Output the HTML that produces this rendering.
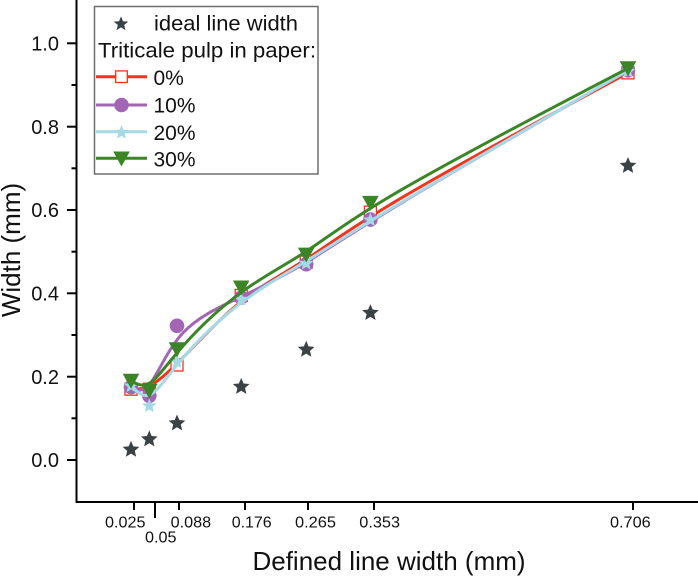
<!DOCTYPE html>
<html>
<head>
<meta charset="utf-8">
<style>
  html,body{margin:0;padding:0;background:#fff;}
  svg{display:block;}
  text{font-family:"Liberation Sans",Arial,sans-serif;fill:#111;}
</style>
</head>
<body>
<svg width="698" height="576" viewBox="0 0 698 576" xmlns="http://www.w3.org/2000/svg">
  <defs>
    <path id="st" d="M0,-7.6 L1.95,-2.69 L7.23,-2.35 L3.17,1.03 L4.47,6.15 L0,3.42 L-4.47,6.15 L-3.17,1.03 L-7.23,-2.35 L-1.95,-2.69 Z"/>
    <path id="st2" d="M0,-8.8 L2.35,-3.24 L8.37,-2.72 L3.8,1.24 L5.17,7.12 L0,4 L-5.17,7.12 L-3.8,1.24 L-8.37,-2.72 L-2.35,-3.24 Z"/>
  </defs>
  <rect width="698" height="576" fill="#fff"/>

  <!-- Axes -->
  <g stroke="#000" stroke-width="2" fill="none">
    <line x1="76.5" y1="0" x2="76.5" y2="502"/>
    <line x1="75.5" y1="502" x2="698" y2="502"/>
    <line x1="67" y1="43.3" x2="76" y2="43.3"/>
    <line x1="67" y1="126.7" x2="76" y2="126.7"/>
    <line x1="67" y1="210" x2="76" y2="210"/>
    <line x1="67" y1="293.3" x2="76" y2="293.3"/>
    <line x1="67" y1="376.7" x2="76" y2="376.7"/>
    <line x1="67" y1="460" x2="76" y2="460"/>
    <line x1="71.5" y1="85" x2="76" y2="85"/>
    <line x1="71.5" y1="168.3" x2="76" y2="168.3"/>
    <line x1="71.5" y1="251.7" x2="76" y2="251.7"/>
    <line x1="71.5" y1="335" x2="76" y2="335"/>
    <line x1="71.5" y1="418.3" x2="76" y2="418.3"/>
    <line x1="134" y1="502" x2="134" y2="510"/>
    <line x1="155" y1="502" x2="155" y2="518"/>
    <line x1="179" y1="502" x2="179" y2="510"/>
    <line x1="245" y1="502" x2="245" y2="510"/>
    <line x1="308" y1="502" x2="308" y2="510"/>
    <line x1="374" y1="502" x2="374" y2="510"/>
    <line x1="633" y1="502" x2="633" y2="510"/>
  </g>

  <!-- y tick labels -->
  <g font-size="20" text-anchor="end">
    <text x="59" y="50.5">1.0</text>
    <text x="59" y="133.9">0.8</text>
    <text x="59" y="217.2">0.6</text>
    <text x="59" y="300.5">0.4</text>
    <text x="59" y="383.9">0.2</text>
    <text x="59" y="467.2">0.0</text>
  </g>

  <!-- x tick labels -->
  <g font-size="16">
    <text x="105" y="527.5" textLength="40.5" lengthAdjust="spacingAndGlyphs">0.025</text>
    <text x="145" y="542.5" textLength="31.5" lengthAdjust="spacingAndGlyphs">0.05</text>
    <text x="170.7" y="527.5" textLength="40.5" lengthAdjust="spacingAndGlyphs">0.088</text>
    <text x="231.7" y="527.5" textLength="40" lengthAdjust="spacingAndGlyphs">0.176</text>
    <text x="295" y="527.5" textLength="41" lengthAdjust="spacingAndGlyphs">0.265</text>
    <text x="359.3" y="527.5" textLength="40.7" lengthAdjust="spacingAndGlyphs">0.353</text>
    <text x="610" y="527.5" textLength="40.7" lengthAdjust="spacingAndGlyphs">0.706</text>
  </g>

  <!-- axis titles -->
  <text x="389" y="570" font-size="26" text-anchor="middle">Defined line width (mm)</text>
  <text transform="translate(20,250) rotate(-90)" font-size="26" text-anchor="middle">Width (mm)</text>

  <!-- ideal line width stars -->
  <g fill="#3b4245">
    <use href="#st2" transform="translate(131,449.6)"/>
    <use href="#st2" transform="translate(149.3,439.2)"/>
    <use href="#st2" transform="translate(177,423.3)"/>
    <use href="#st2" transform="translate(241.2,386.7)"/>
    <use href="#st2" transform="translate(306.2,349.6)"/>
    <use href="#st2" transform="translate(370.4,312.9)"/>
    <use href="#st2" transform="translate(628,165.8)"/>
  </g>

  <!-- 0% red -->
  <path fill="none" stroke="#f2341c" stroke-width="3" stroke-linejoin="round"
    d="M131,389.2 L134.05,389.2 C137.1,389.2 143.2,389.2 150.87,385.17 C158.53,381.13 167.77,373.07 183.08,357.43 C198.4,341.8 219.8,318.6 241.33,301.45 C262.87,284.3 284.53,273.2 306.07,259.32 C327.6,245.43 349,228.77 402.63,197.23 C456.27,165.7 542.13,119.3 585.07,96.1 L628,72.9"/>
  <g fill="#fff" stroke="#f2341c" stroke-width="1.3">
    <rect x="125" y="383.2" width="12" height="12"/>
    <rect x="143.3" y="383.2" width="12" height="12"/>
    <rect x="171" y="359" width="12" height="12"/>
    <rect x="235.2" y="289.4" width="12" height="12"/>
    <rect x="300.2" y="256.1" width="12" height="12"/>
    <rect x="364.4" y="206.1" width="12" height="12"/>
    <rect x="622" y="66.9" width="12" height="12"/>
  </g>

  <!-- 10% purple -->
  <path fill="none" stroke="#a366b4" stroke-width="3" stroke-linejoin="round"
    d="M131,387.1 L134.05,388.55 C137.1,390 143.2,392.9 150.87,382.68 C158.53,372.47 167.77,349.13 183.08,332.75 C198.4,316.37 219.8,306.93 241.33,296.67 C262.87,286.4 284.53,275.3 306.07,262.32 C327.6,249.33 349,234.47 402.63,202.17 C456.27,169.87 542.13,120.13 585.07,95.27 L628,70.4"/>
  <g fill="#a366b4">
    <circle cx="131" cy="387.1" r="7.3"/>
    <circle cx="149.3" cy="395.8" r="7.3"/>
    <circle cx="177" cy="325.8" r="7.3"/>
    <circle cx="241.2" cy="297.5" r="7.3"/>
    <circle cx="306.2" cy="264.2" r="7.3"/>
    <circle cx="370.4" cy="219.6" r="7.3"/>
    <circle cx="628" cy="70.4" r="7.3"/>
  </g>

  <!-- 20% light blue -->
  <path fill="none" stroke="#a6d9e6" stroke-width="3" stroke-linejoin="round"
    d="M131,385 L134.05,388.33 C137.1,391.67 143.2,398.33 150.87,394.3 C158.53,390.27 167.77,375.53 183.08,357.75 C198.4,339.97 219.8,319.13 241.33,302.75 C262.87,286.37 284.53,274.43 306.07,261.23 C327.6,248.03 349,233.57 402.63,201.55 C456.27,169.53 542.13,119.97 585.07,95.18 L628,70.4"/>
  <g fill="#a6d9e6">
    <use href="#st" transform="translate(131,386)"/>
    <use href="#st" transform="translate(149.3,406)"/>
    <use href="#st" transform="translate(177,361.8)"/>
    <use href="#st" transform="translate(241.2,299.3)"/>
    <use href="#st" transform="translate(306.2,263.5)"/>
    <use href="#st" transform="translate(370.4,220.1)"/>
    <use href="#st" transform="translate(628,71.4)"/>
  </g>

  <!-- 30% green -->
  <path fill="none" stroke="#3b8527" stroke-width="3" stroke-linejoin="round"
    d="M131,380.8 L134.05,382.47 C137.1,384.13 143.2,387.47 150.87,382.2 C158.53,376.93 167.77,363.07 183.08,345.85 C198.4,328.63 219.8,308.07 241.33,292.3 C262.87,276.53 284.53,265.57 306.07,251.47 C327.6,237.37 349,220.13 402.63,189.08 C456.27,158.03 542.13,113.17 585.07,90.73 L628,68.3"/>
  <g fill="#3b8527">
    <polygon points="122.7,373.8 139.3,373.8 131,388.8"/>
    <polygon points="141,383.8 157.6,383.8 149.3,398.8"/>
    <polygon points="168.7,342.2 185.3,342.2 177,357.2"/>
    <polygon points="232.9,280.5 249.5,280.5 241.2,295.5"/>
    <polygon points="297.9,247.6 314.5,247.6 306.2,262.6"/>
    <polygon points="362.1,195.9 378.7,195.9 370.4,210.9"/>
    <polygon points="619.7,61.3 636.3,61.3 628,76.3"/>
  </g>

  <!-- Legend -->
  <rect x="94.5" y="6.5" width="223.5" height="167.5" fill="#fff" stroke="#6e6e6e" stroke-width="1.5"/>
  <use href="#st" transform="translate(121,24)" fill="#3b4245"/>
  <g font-size="21">
    <text x="154" y="30.7" textLength="144" lengthAdjust="spacingAndGlyphs">ideal line width</text>
    <text x="98" y="57.3" textLength="218" lengthAdjust="spacingAndGlyphs">Triticale pulp in paper:</text>
    <text x="153.5" y="85">0%</text>
    <text x="153.5" y="112.3">10%</text>
    <text x="153.5" y="139.8">20%</text>
    <text x="153.5" y="166.5">30%</text>
  </g>
  <line x1="96" y1="76.7" x2="147" y2="76.7" stroke="#f2341c" stroke-width="3"/>
  <rect x="115.7" y="70.9" width="11.6" height="11.6" fill="#fff" stroke="#f2341c" stroke-width="1.3"/>
  <line x1="96" y1="105" x2="147" y2="105" stroke="#a366b4" stroke-width="3"/>
  <circle cx="121.5" cy="105" r="7.3" fill="#a366b4"/>
  <line x1="96" y1="131.7" x2="147" y2="131.7" stroke="#a6d9e6" stroke-width="3"/>
  <use href="#st" transform="translate(121.5,132.5)" fill="#a6d9e6"/>
  <line x1="96" y1="158.3" x2="147" y2="158.3" stroke="#3b8527" stroke-width="3"/>
  <polygon points="113.2,151.5 129.8,151.5 121.5,166.5" fill="#3b8527"/>
</svg>
</body>
</html>
